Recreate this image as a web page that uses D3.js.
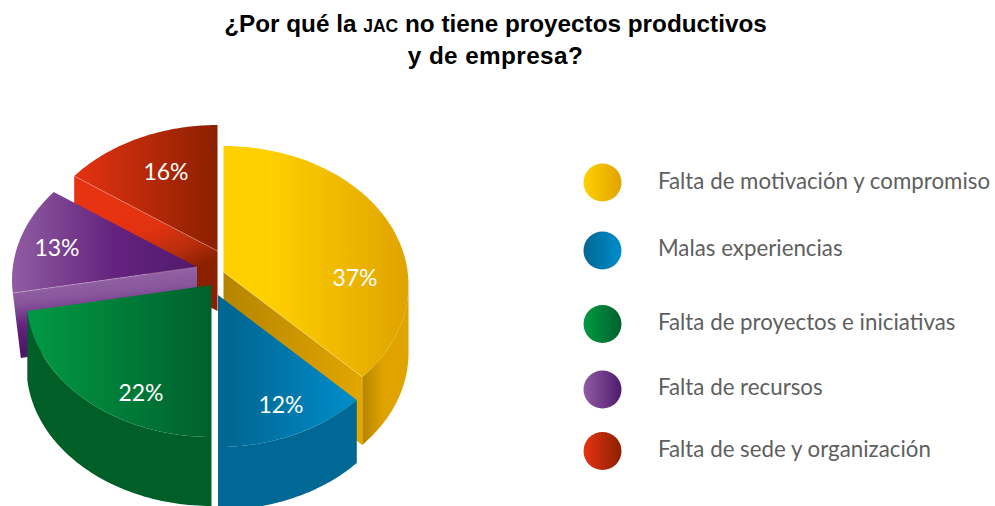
<!DOCTYPE html>
<html><head><meta charset="utf-8">
<script src="https://cdn.jsdelivr.net/npm/d3@7"></script>
<style>html,body{margin:0;padding:0;background:#fff}svg{display:block}</style>
</head><body><svg id="c" width="995" height="506"></svg>
<script>
// Data
const categories = ["Falta de motivación y compromiso","Malas experiencias","Falta de proyectos e iniciativas","Falta de recursos","Falta de sede y organización"];
const values = [37,12,22,13,16];                // printed percentages
const drawnShares = [36.5,13.5,23.5,12.4,14.1]; // the wedge sizes as actually drawn in the picture (differ slightly from the printed labels)
const colorsA = ["#ffd000","#006793","#009a44","#905ca2","#e63312"];
const colorsB = ["#e0a300","#008dcb","#00602c","#501a6e","#8a2000"];
const sideColors = ["#b58500","#006894","#005f27","#4f1768","#8a2000"];
const titleLines = [["¿Por qué la ","JAC"," no tiene proyectos productivos"],["y de empresa?"]];

// Layout
const W=995,H=506, rx=185, ry=139, apexLift=13;
const offsetX=[223.5,218,211.5,197,217.5], apexY=[272,295,285,267,251], depth=[68,63,69,65,60];
const labelXY=[[355,277],[281,404],[141,392],[57,247],[166,171]];
const legendY=[182.5,250.5,324,389.5,451], legendBase=[188.5,256,330,395,457];
const drawOrder=[4,3,2,0,1];

const svg=d3.select("#c"), defs=svg.append("defs");
const slices=d3.pie().sort(null).value(d=>d)(drawnShares);
const line=d3.line().x(d=>d[0]).y(d=>d[1]);

function grad(id,x1,y1,x2,y2,stops){
  const g=defs.append("linearGradient").attr("id",id).attr("gradientUnits","userSpaceOnUse")
    .attr("x1",x1).attr("y1",y1).attr("x2",x2).attr("y2",y2);
  stops.forEach(s=>g.append("stop").attr("offset",s[0]).attr("stop-color",s[1]));
}
const P=(i,t,dy=0)=>[offsetX[i]+rx*Math.sin(t), apexY[i]+apexLift-ry*Math.cos(t)+dy];
const arcPts=(i,a,b,dy=0)=>d3.range(0,61).map(k=>P(i,a+(b-a)*k/60,dy));

// top-surface gradients
const topExt=[[223,408],[218,356],[27,212],[13,197],[72,218]];
categories.forEach((c,i)=>grad("top"+i,topExt[i][0],0,topExt[i][1],0,
  i===0?[[0,colorsA[0]],[0.25,colorsA[0]],[1,colorsB[0]]]:
  i===1?[[0,colorsA[1]],[0.1,colorsA[1]],[1,colorsB[1]]]:
  i===3?[[0,colorsA[3]],[0.55,"#64227e"],[1,colorsB[3]]]:
  [[0,colorsA[i]],[1,colorsB[i]]]));
grad("wallY",224,0,362,0,[[0,"#b58500"],[1,"#e2a600"]]);
grad("sideY",362,0,392,0,[[0,"#b58500"],[0.7,"#dfa300"],[1,"#e0a300"]]);
grad("wallP",100,279,107,342,[[0,"#9161a3"],[0.25,"#87559b"],[0.6,"#64227e"],[1,"#4f1768"]]);
grad("wallR",130,205,165,282,[[0,"#e63312"],[0.35,"#e23210"],[0.7,"#bc2f0d"],[1,"#8a2000"]]);

const g=svg.append("g");
drawOrder.forEach(i=>{
  const s=slices[i], a=s.startAngle, b=s.endAngle, ap=[offsetX[i],apexY[i]], d=depth[i];
  // outer rim, front half only
  const front0=Math.max(a,Math.PI/2), front1=Math.min(b,Math.PI*1.5);
  if(i<3){
    const top=arcPts(i,front0,front1), bot=arcPts(i,front0,front1,d).reverse();
    g.append("path").attr("d",line(top.concat(bot))+"Z").attr("fill",i===0?"url(#sideY)":sideColors[i]);
  }
  // cut wall
  const wallAngle={0:b,3:a,4:a}[i];
  if(wallAngle!==undefined){
    const e=P(i,wallAngle), sl=i===3?8:0;
    g.append("path").attr("d",line([ap,e,[e[0]+sl,e[1]+d],[ap[0],ap[1]+d]])+"Z")
      .attr("fill",i===0?"url(#wallY)":i===3?"url(#wallP)":"url(#wallR)");
  }
  // top surface
  g.append("path").attr("d",line([ap].concat(arcPts(i,a,b)))+"Z").attr("fill",`url(#top${i})`);
  // thin highlight along the cut
  if(wallAngle!==undefined)
    g.append("path").attr("d",line([ap,P(i,wallAngle)])).attr("stroke","#fff").attr("stroke-opacity",.35)
      .attr("stroke-width",.7).attr("fill","none");
});

// value labels
svg.append("g").selectAll("text").data(values).join("text")
  .attr("x",(d,i)=>labelXY[i][0]).attr("y",(d,i)=>labelXY[i][1]+8.5)
  .attr("text-anchor","middle").attr("fill","#fff")
  .attr("font-family","Lato").attr("font-weight",400).attr("font-size",23)
  .text(d=>d+"%");

// legend
categories.forEach((c,i)=>grad("leg"+i,583.5,0,621.5,0,[[0,colorsA[i]],[1,colorsB[i]]]));
const lg=svg.append("g").selectAll("g").data(categories).join("g");
lg.append("circle").attr("cx",602.5).attr("cy",(d,i)=>legendY[i]).attr("r",19).attr("fill",(d,i)=>`url(#leg${i})`);
lg.append("text").attr("x",658).attr("y",(d,i)=>legendBase[i]).text(d=>d)
  .attr("font-family","Lato").attr("font-weight",400).attr("font-size",22.3).attr("fill","#5f5f5f");

// title
const tl=svg.append("g").attr("font-family","Liberation Sans").attr("font-weight",700).attr("fill","#000").attr("text-anchor","middle");
titleLines.forEach((parts,li)=>{
  const t=tl.append("text").attr("x",495.5).attr("y",[32,64][li]).attr("letter-spacing",li?0.4:0);
  parts.forEach(p=>t.append("tspan").text(p).attr("font-size",p==="JAC"?17.5:24.3));
});
</script></body></html>
